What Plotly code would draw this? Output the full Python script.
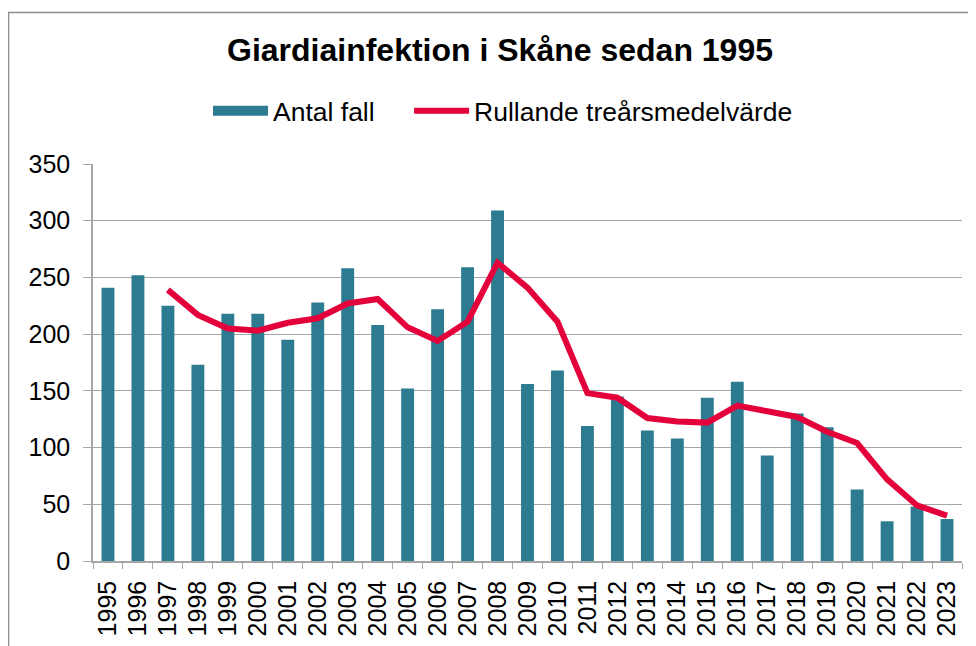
import plotly.graph_objects as go

years = [str(y) for y in range(1995, 2024)]
antal_fall = [241, 252, 225, 173, 218, 218, 195, 228, 258, 208, 152, 222, 259, 309, 156,
              168, 119, 145, 115, 108, 144, 158, 93, 130, 118, 63, 35, 48, 37]
rull_years = years[2:]
rullande = [239, 217, 205, 203, 210, 214, 227, 231, 206, 194, 211, 263, 241, 211, 148,
            144, 126, 123, 122, 137, 132, 127, 114, 104, 72, 49, 40]
y_ticks = [0, 50, 100, 150, 200, 250, 300, 350]

BAR_COLOR = "#2c7b90"
LINE_COLOR = "#e4003b"

# page body has an 8px margin; positions below are target screen pixels
OFF = 8
W, H = 976, 646
SL, SR, ST, SB = 93, 962, 164, 561  # plot area on screen
L, T = SL - OFF, ST - OFF
pw, ph = SR - SL, SB - ST
R, B = W - L - pw, H - T - ph

def px(x):
    return (x - SL) / pw

def py(y):
    return 1 - (y - ST) / ph

NBSP = "\u00a0"

fig = go.Figure()
fig.add_trace(go.Bar(
    x=years, y=antal_fall, name="Antal fall", showlegend=False,
    marker=dict(color=BAR_COLOR, line=dict(width=0)),
))
# legend proxy for the bar series (wide swatch like the original)
fig.add_trace(go.Scatter(
    x=[None], y=[None], name="Antal fall" + NBSP * 4, mode="lines",
    line=dict(color=BAR_COLOR, width=12), hoverinfo="skip",
))
fig.add_trace(go.Scatter(
    x=rull_years, y=rullande, name="Rullande treårsmedelvärde",
    mode="lines", line=dict(color=LINE_COLOR, width=6),
))

fig.update_layout(
    width=W, height=H,
    margin=dict(l=L, r=R, t=T, b=B, autoexpand=False),
    paper_bgcolor="white", plot_bgcolor="white",
    font=dict(family="Liberation Sans, Arial, sans-serif", color="black", size=25),
    bargap=0.57,
    showlegend=True,
    title=dict(text="<b>Giardiainfektion i Skåne sedan 1995</b>",
               x=px(500), xref="paper", xanchor="center",
               y=1 - (50 - OFF) / H, yref="container", yanchor="middle",
               font=dict(size=32, color="black")),
    legend=dict(orientation="h", x=px(208), xanchor="left", y=py(111), yanchor="middle",
                font=dict(size=26.5), bgcolor="rgba(0,0,0,0)", itemwidth=55,
                traceorder="normal"),
    xaxis=dict(type="category", tickangle=-90, showline=True, linecolor="#a6a6a6", linewidth=1.5,
               ticks="outside", tickson="boundaries", ticklen=6, tickcolor="#a6a6a6",
               tickmode="linear", dtick=1,
               tickfont=dict(size=25), showgrid=False, automargin=False,
               ticklabelstandoff=8),
    yaxis=dict(range=[0, 350], tickvals=y_ticks, showline=True, linecolor="#a6a6a6", linewidth=1.5,
               ticks="outside", ticklen=8, tickcolor="#a6a6a6", gridcolor="#a6a6a6", gridwidth=1.2,
               tickfont=dict(size=25), zeroline=False, automargin=False,
               ticklabelstandoff=8),
    shapes=[dict(type="rect", xref="paper", yref="paper",
                 x0=px(8.5), x1=px(1100), y0=py(900), y1=py(12.5),
                 line=dict(color="#8c8c8c", width=1.5), fillcolor="rgba(0,0,0,0)", layer="below")],
)

fig.write_html("out.html")
